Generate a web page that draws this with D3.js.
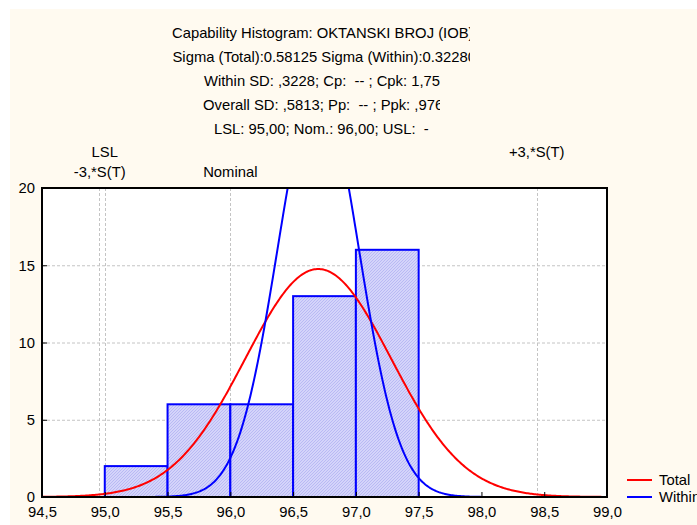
<!DOCTYPE html>
<html><head><meta charset="utf-8">
<script src="https://cdn.jsdelivr.net/npm/d3@7"></script>
<style>
html,body{margin:0;padding:0;background:#fff;}
svg{display:block;font-family:"Liberation Sans",Arial,sans-serif;}
text{white-space:pre;}
</style></head>
<body>
<svg id="c" width="697" height="525"></svg>
<script>
// ---- data ----
const binStarts = [95.0, 95.5, 96.0, 96.5, 97.0];
const binWidth = 0.5;
const binCounts = [2, 6, 6, 13, 16];
const xTicks = [94.5, 95.0, 95.5, 96.0, 96.5, 97.0, 97.5, 98.0, 98.5, 99.0];
const yTicks = [0, 5, 10, 15, 20];
const fitMean = [96.70];
const fitSigma = [0.58125, 0.3228];           // Total, Within
const fitNames = ["Total", "Within"];
const fitColors = ["#ff0000", "#0000ff"];
const refLines = [94.956, 95.0, 96.0, 98.444]; // -3S(T), LSL, Nominal, +3S(T)
const titleLines = [
  "Capability Histogram: OKTANSKI BROJ (IOB)",
  "Sigma (Total):0.58125 Sigma (Within):0.32280",
  "Within SD: ,3228; Cp:  -- ; Cpk: 1,755",
  "Overall SD: ,5813; Pp:  -- ; Ppk: ,976",
  "LSL: 95,00; Nom.: 96,00; USL:  -"
];

const FS = 14.8;
const svg = d3.select("#c");
const W = 697, H = 525;
const L = 42, R = 607, T = 188, B = 497;

svg.append("rect").attr("x",10).attr("y",9).attr("width",W-10).attr("height",H-9).attr("fill","#fffaf0");

const defs = svg.append("defs");
const pat = defs.append("pattern").attr("id","hatch").attr("patternUnits","userSpaceOnUse")
  .attr("width",3).attr("height",3);
pat.append("rect").attr("width",3).attr("height",3).attr("fill","#d4d4fa");
pat.append("path").attr("d","M0,3 L3,0").attr("stroke","#b9b9f4").attr("stroke-width",1);
defs.append("clipPath").attr("id","plotclip").append("rect")
  .attr("x",L).attr("y",T).attr("width",R-L).attr("height",B-T);
const clipEnds = [470, 470, 440, 440, 440];
const titleX = [172, 172.5, 204, 203, 214];
titleLines.forEach((t,i)=>{
  defs.append("clipPath").attr("id","tc"+i).append("rect")
    .attr("x",0).attr("y",0).attr("width",clipEnds[i]).attr("height",H);
});

const x = d3.scaleLinear().domain([94.5, 99.0]).range([L, R]);
const y = d3.scaleLinear().domain([0, 20]).range([B, T]);

// plot background
svg.append("rect").attr("x",L).attr("y",T).attr("width",R-L).attr("height",B-T).attr("fill","#fff");

// title
titleLines.forEach((t,i)=>{
  svg.append("text").attr("x",titleX[i]).attr("y",37.5+i*24.2)
    .attr("font-size",FS).attr("fill","#000").attr("clip-path",`url(#tc${i})`).text(t);
});

const g = svg.append("g");
// horizontal grid
g.selectAll(".hg").data(yTicks.filter(d=>d>0 && d<20)).join("line")
  .attr("x1",L).attr("x2",R).attr("y1",d=>y(d)+0.5).attr("y2",d=>y(d)+0.5)
  .attr("stroke","#c4c4c4").attr("stroke-dasharray","3,2").attr("stroke-width",1);
// reference lines
g.selectAll(".rl").data(refLines).join("line")
  .attr("x1",d=>Math.round(x(d))+0.5).attr("x2",d=>Math.round(x(d))+0.5).attr("y1",T).attr("y2",B)
  .attr("stroke","#c4c4c4").attr("stroke-dasharray","3,2").attr("stroke-width",1);

// bars
g.selectAll(".bar").data(binStarts).join("rect")
  .attr("x",d=>x(d)).attr("width",d=>x(d+binWidth)-x(d))
  .attr("y",(d,i)=>y(binCounts[i])).attr("height",(d,i)=>y(0)-y(binCounts[i]))
  .attr("fill","url(#hatch)").attr("stroke","#0000ff").attr("stroke-width",2);

// fitted normal curves
const nPts = binCounts.reduce((a,b)=>a+b,0);
const xs = d3.range(0, 451).map(i=>94.5 + i*0.01);
fitSigma.forEach((s,k)=>{
  const f = v => nPts*binWidth/(s*Math.sqrt(2*Math.PI))*Math.exp(-0.5*Math.pow((v-fitMean[0])/s,2));
  g.append("path").datum(xs).attr("clip-path","url(#plotclip)")
    .attr("d", d3.line().x(v=>x(v)).y(v=>y(f(v))))
    .attr("fill","none").attr("stroke",fitColors[k]).attr("stroke-width",2);
});

// axes
const xa = svg.append("g").attr("transform",`translate(0,${B})`)
  .call(d3.axisBottom(x).tickValues(xTicks).tickSize(-5).tickPadding(9)
    .tickFormat(d=>d3.format(".1f")(d).replace(".",",")));
const ya = svg.append("g").attr("transform",`translate(${L},0)`)
  .call(d3.axisLeft(y).tickValues(yTicks).tickSize(-5).tickPadding(7));
[xa,ya].forEach(a=>{
  a.select(".domain").remove();
  a.selectAll("line").attr("stroke","#000").attr("stroke-width",1);
  a.selectAll("text").attr("font-size",FS).attr("fill","#000").attr("font-family","Liberation Sans, Arial, sans-serif");
});
// frame
svg.append("rect").attr("x",L).attr("y",T).attr("width",R-L).attr("height",B-T)
  .attr("fill","none").attr("stroke","#000").attr("stroke-width",2);

// top labels
const topLab = [
  {t:"LSL", v:95.0, dy:157},
  {t:"-3,*S(T)", v:94.96, dy:177},
  {t:"Nominal", v:96.0, dy:177},
  {t:"+3,*S(T)", v:98.44, dy:157}
];
svg.selectAll(".tl").data(topLab).join("text")
  .attr("x",d=>x(d.v)).attr("y",d=>d.dy).attr("text-anchor","middle")
  .attr("font-size",FS).attr("fill","#000").text(d=>d.t);

// legend
fitNames.forEach((n,i)=>{
  const yy = 480 + i*17;
  svg.append("line").attr("x1",627).attr("x2",652).attr("y1",yy).attr("y2",yy)
    .attr("stroke",fitColors[i]).attr("stroke-width",2);
  svg.append("text").attr("x",659).attr("y",yy+5).attr("font-size",FS).attr("fill","#000").text(n);
});
</script>
</body></html>
